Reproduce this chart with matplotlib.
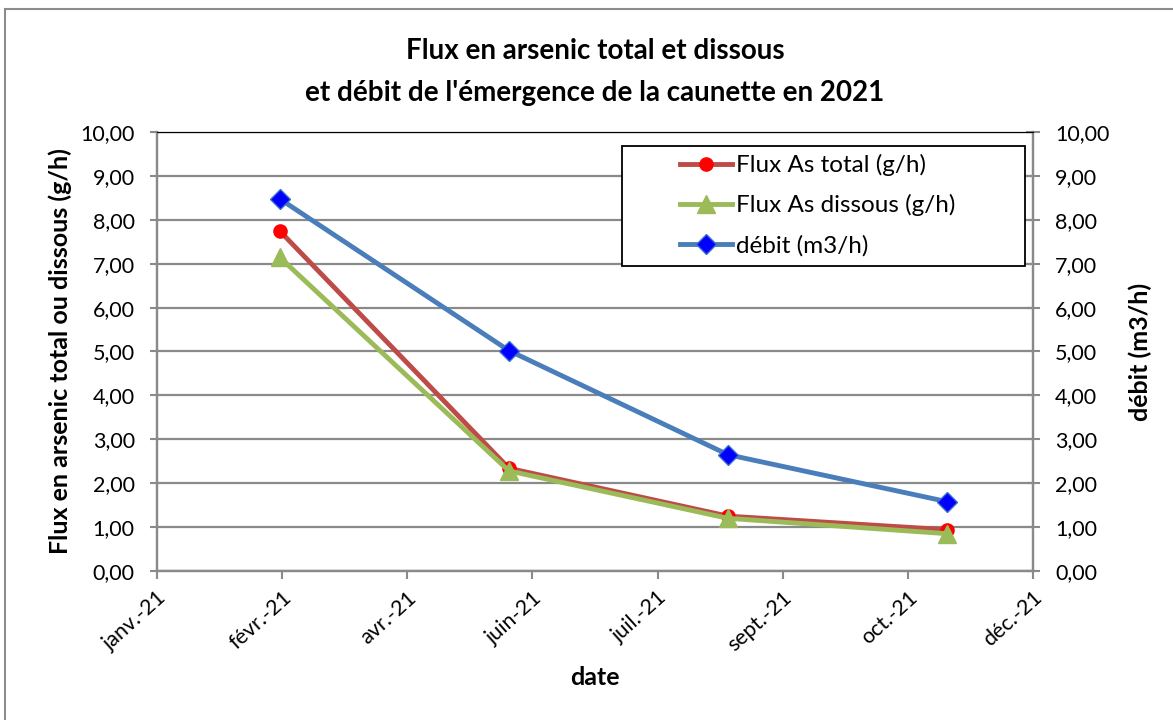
import datetime as dt
import matplotlib
matplotlib.use("Agg")
import matplotlib.pyplot as plt
from matplotlib.lines import Line2D
from matplotlib.patches import Rectangle
from matplotlib.ticker import FuncFormatter, MultipleLocator

plt.rcParams['font.family'] = ['Lato', 'DejaVu Sans']

# Sampling dates and measured values
dates = [dt.date(2021, 2, 26), dt.date(2021, 5, 25), dt.date(2021, 8, 17), dt.date(2021, 11, 9)]
flux_total = [7.75, 2.34, 1.25, 0.94]
flux_dissous = [7.15, 2.28, 1.20, 0.85]
debit = [8.48, 5.02, 2.65, 1.58]

series_labels = ["Flux As total (g/h)", "Flux As dissous (g/h)", "débit (m3/h)"]
title = "Flux en arsenic total et dissous\net débit de l'émergence de la caunette en 2021"
ylabel_left = "Flux en arsenic total ou dissous (g/h)"
ylabel_right = "débit (m3/h)"
xlabel = "date"

mois = ["janv.", "févr.", "mars", "avr.", "mai", "juin",
        "juil.", "août", "sept.", "oct.", "nov.", "déc."]

x_start = dt.date(2021, 1, 10)
x_end = dt.date(2021, 12, 12)
step_days = 48

W, H = 1173, 720
fig = plt.figure(figsize=(W / 100, H / 100), dpi=100)

# outer chart frame
fig.patches.append(Rectangle((5 / W, 1 - 9 / H - 800 / H), 1300 / W, 800 / H,
                             transform=fig.transFigure, fill=False,
                             edgecolor="#8c8c8c", linewidth=1.5))

left, right, top, bottom = 157, 1033, 132, 571
ax = fig.add_axes([left / W, 1 - bottom / H, (right - left) / W, (bottom - top) / H])
ax2 = ax.twinx()

grid_c = "#8a8a8a"
red_line, green_line, blue_line = "#BE4B48", "#9BBB59", "#4A7EBB"
lw = 3.5

red_style = dict(color=red_line, lw=lw, marker="o", ms=9.5, mfc="#FF0000", mec="#FF0000")
green_style = dict(color=green_line, lw=lw, marker="^", ms=12.5, mfc=green_line, mec=green_line)
blue_style = dict(color=blue_line, lw=lw, marker="D", ms=10.5, mfc="#0000FF", mec="#3A6FD0", mew=1.0)

ax.plot(dates, flux_total, zorder=3, **red_style)
ax.plot(dates, flux_dissous, zorder=4, **green_style)
ax2.plot(dates, debit, zorder=3, **blue_style)

tick_fs = 15.5
for a in (ax, ax2):
    a.set_ylim(0, 10)
    a.yaxis.set_major_locator(MultipleLocator(1))
    a.yaxis.set_major_formatter(FuncFormatter(lambda v, p: f"{v:.2f}".replace(".", ",")))
    a.tick_params(axis="y", labelsize=tick_fs, colors=grid_c, labelcolor="black", width=1.5)

ax.set_xlim(x_start, x_end)
ticks = [x_start + dt.timedelta(days=step_days * i) for i in range(8)]
ax.set_xticks(ticks)
ax.set_xticklabels([f"{mois[t.month - 1]}-{t.strftime('%y')}" for t in ticks],
                   rotation=42, ha="right", rotation_mode="anchor", fontsize=tick_fs)
ax.tick_params(axis="x", length=6, width=1.5, colors=grid_c, labelcolor="black", pad=6)
ax.tick_params(axis="y", length=5, pad=11)
ax2.tick_params(axis="y", direction="inout", length=9.5, pad=11)

ax.grid(axis="y", color=grid_c, lw=1.6)
ax.set_axisbelow(True)
for s in ("left", "bottom", "right"):
    for a in (ax, ax2):
        a.spines[s].set_color(grid_c)
        a.spines[s].set_linewidth(1.6)
ax.spines["top"].set_color("black")
ax2.spines["top"].set_color("black")

label_fs = 18
ax.set_ylabel(ylabel_left, fontsize=label_fs, fontweight="bold", labelpad=6)
ax2.set_ylabel(ylabel_right, fontsize=label_fs, fontweight="bold", labelpad=14)
ax.set_xlabel(xlabel, fontsize=label_fs, fontweight="bold", labelpad=8)

fig.text((left + right) / 2 / W, 1 - 72 / H, title, ha="center", va="center",
         fontsize=20, fontweight="bold", linespacing=1.72)

# legend box with its entries placed inside
box = Rectangle((622 / W, 1 - 266 / H), (1025 - 622) / W, (266 - 146) / H,
                transform=fig.transFigure, facecolor="white", edgecolor="black",
                linewidth=1.3, zorder=9)
fig.patches.append(box)
handles = [Line2D([], [], **red_style), Line2D([], [], **green_style), Line2D([], [], **blue_style)]
leg_fs = 17.5
leg = fig.legend(handles, series_labels, loc="upper left",
                 bbox_to_anchor=(680 / W, 1 - 154 / H),
                 fontsize=leg_fs, frameon=False,
                 borderpad=0, labelspacing=0.75, handlelength=2.15, handletextpad=0.15,
                 borderaxespad=0)
leg.set_zorder(10)

fig.savefig("out.png", dpi=100)
